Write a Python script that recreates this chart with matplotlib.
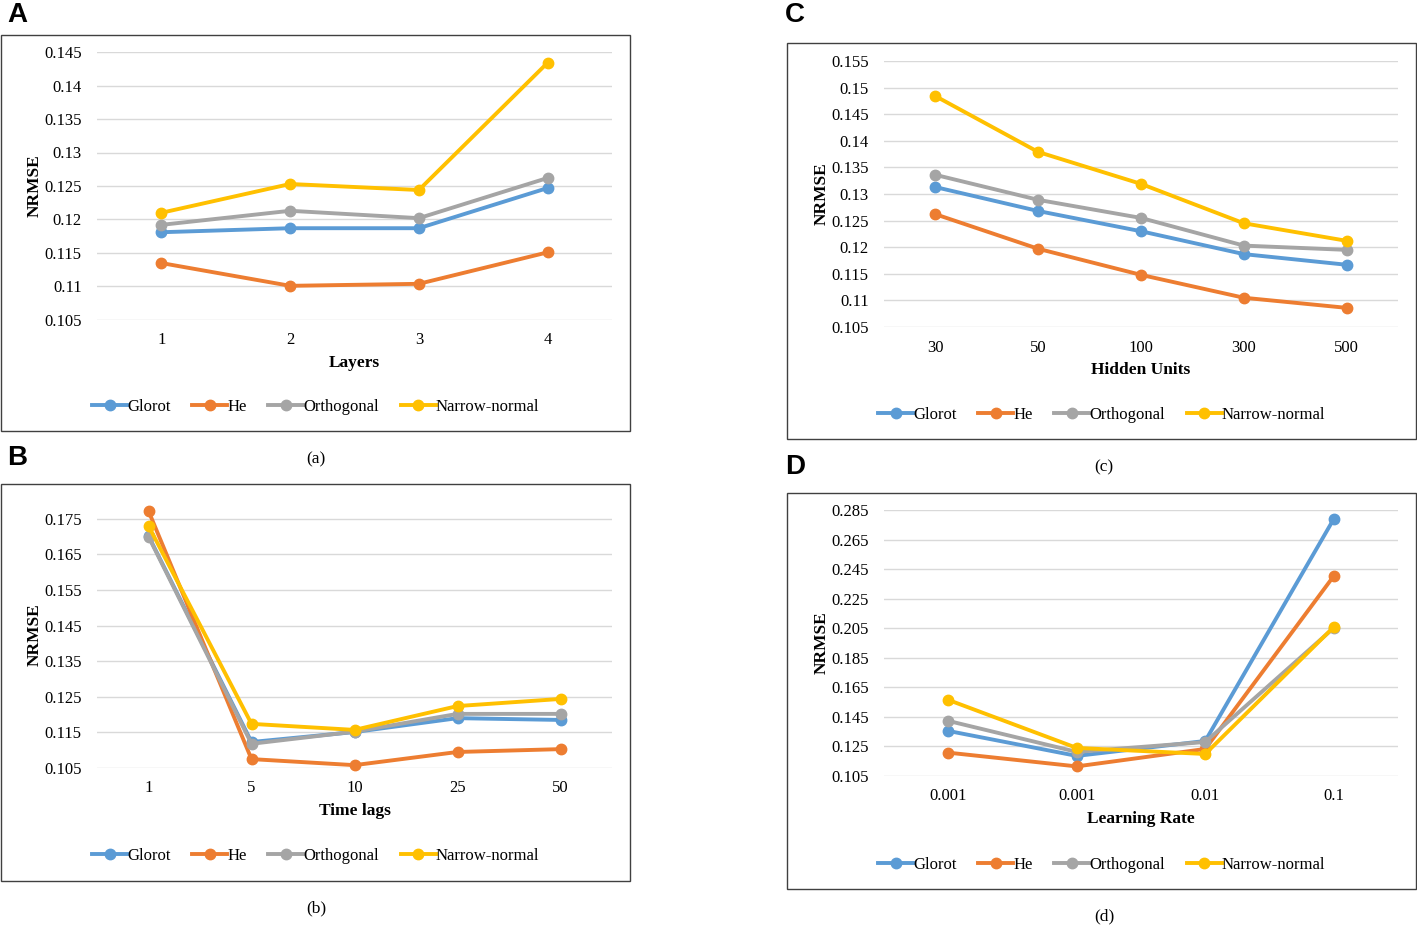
import numpy as np
import matplotlib
matplotlib.use("Agg")
import matplotlib.pyplot as plt
from matplotlib.patches import Rectangle

plt.rcParams['font.family'] = ['Liberation Serif', 'DejaVu Serif']

series_names = ["Glorot", "He", "Orthogonal", "Narrow-normal"]
colors = ["#5B9BD5", "#ED7D31", "#A5A5A5", "#FFC000"]

# Panel A: Layers
layers_cats = ["1", "2", "3", "4"]
layers_glorot = [0.1181, 0.1187, 0.1187, 0.1247]
layers_he = [0.1135, 0.1101, 0.1104, 0.1151]
layers_orth = [0.1192, 0.1213, 0.1202, 0.1262]
layers_nn = [0.1210, 0.1253, 0.1244, 0.1434]

# Panel B: Time lags
lags_cats = ["1", "5", "10", "25", "50"]
lags_glorot = [0.1702, 0.1123, 0.1151, 0.1190, 0.1185]
lags_he = [0.1772, 0.1075, 0.1058, 0.1095, 0.1103]
lags_orth = [0.1700, 0.1118, 0.1152, 0.1202, 0.1202]
lags_nn = [0.1730, 0.1174, 0.1157, 0.1224, 0.1244]

# Panel C: Hidden units
units_cats = ["30", "50", "100", "300", "500"]
units_glorot = [0.1313, 0.1268, 0.1230, 0.1187, 0.1167]
units_he = [0.1262, 0.1197, 0.1148, 0.1105, 0.1086]
units_orth = [0.1336, 0.1289, 0.1255, 0.1203, 0.1195]
units_nn = [0.1484, 0.1379, 0.1319, 0.1245, 0.1212]

# Panel D: Learning rate
lr_cats = ["0.001", "0.001", "0.01", "0.1"]
lr_glorot = [0.1355, 0.1186, 0.1287, 0.2789]
lr_he = [0.1208, 0.1115, 0.1233, 0.2403]
lr_orth = [0.1423, 0.1213, 0.1280, 0.2052]
lr_nn = [0.1565, 0.1240, 0.1199, 0.2058]

W, H = 1417, 926
fig = plt.figure(figsize=(W / 100, H / 100), dpi=100)


def fx(px):
    return px / W


def fy(py):
    return 1 - py / H


def panel(box, axpix, ylim, yticks, cats, data, xlabel, letter, letter_pos, caption, caption_pos, legend_y):
    # frame box
    x0, y0, x1, y1 = box
    fig.patches.append(Rectangle((fx(x0), fy(y1)), fx(x1 - x0), (y1 - y0) / H,
                                 transform=fig.transFigure, fill=False,
                                 edgecolor="#404040", lw=1.0))
    l, t, r, b = axpix
    ax = fig.add_axes([fx(l), fy(b), fx(r - l), (b - t) / H])
    xs = np.arange(len(cats))
    handles = []
    for name, vals, c in zip(series_names, data, colors):
        h, = ax.plot(xs, vals, color=c, lw=2.8, marker='o', markersize=7.5,
                     label=name, clip_on=False, zorder=3)
        handles.append(h)
    ax.set_xlim(-0.5, len(cats) - 0.5)
    ax.set_ylim(*ylim)
    ax.set_yticks(yticks)
    ax.set_yticklabels([f"{round(v, 3):g}" for v in yticks])
    ax.set_xticks(xs)
    ax.set_xticklabels(cats)
    for s in ax.spines.values():
        s.set_visible(False)
    ax.tick_params(axis='both', length=0, labelsize=12, colors="#000000")
    ax.tick_params(axis='y', pad=11)
    ax.tick_params(axis='x', pad=9)
    ax.yaxis.grid(True, color="#d9d9d9", lw=1.0)
    ax.set_axisbelow(True)
    ax.set_xlabel(xlabel, fontsize=12.5, fontweight='bold', labelpad=5)
    ax.set_ylabel("NRMSE", fontsize=12.5, fontweight='bold', labelpad=1)
    ax.set_facecolor('none')
    fig.legend(handles=handles, loc='center',
               bbox_to_anchor=(fx((x0 + x1) / 2), fy(legend_y)),
               ncol=4, frameon=False, fontsize=12, handlelength=2.1,
               handletextpad=0.0, columnspacing=1.3)
    fig.text(fx(letter_pos[0]), fy(letter_pos[1]), letter, fontsize=20,
             fontweight='bold', family=['Liberation Sans', 'DejaVu Sans'],
             ha='left', va='center')
    fig.text(fx(caption_pos[0]), fy(caption_pos[1]), caption, fontsize=12.5,
             ha='center', va='center')
    return ax


panel((1, 35, 630, 431), (97, 52, 612, 320), (0.105, 0.145),
      np.arange(0.105, 0.1451, 0.005), layers_cats,
      [layers_glorot, layers_he, layers_orth, layers_nn], "Layers",
      "A", (7, 15), "(a)", (316, 459), 407)

panel((1, 484, 630, 881), (97, 501, 612, 768), (0.105, 0.18),
      np.arange(0.105, 0.1751, 0.01), lags_cats,
      [lags_glorot, lags_he, lags_orth, lags_nn], "Time lags",
      "B", (7, 458), "(b)", (316, 908), 856)

panel((787, 43, 1416, 439), (884, 61, 1398, 327), (0.105, 0.155),
      np.arange(0.105, 0.1551, 0.005), units_cats,
      [units_glorot, units_he, units_orth, units_nn], "Hidden Units",
      "C", (785, 15), "(c)", (1104, 467), 415)

panel((787, 493, 1416, 889), (884, 510, 1398, 776), (0.105, 0.285),
      np.arange(0.105, 0.2851, 0.02), lr_cats,
      [lr_glorot, lr_he, lr_orth, lr_nn], "Learning Rate",
      "D", (785, 467), "(d)", (1104, 916), 865)

fig.savefig("out.png", dpi=100)
